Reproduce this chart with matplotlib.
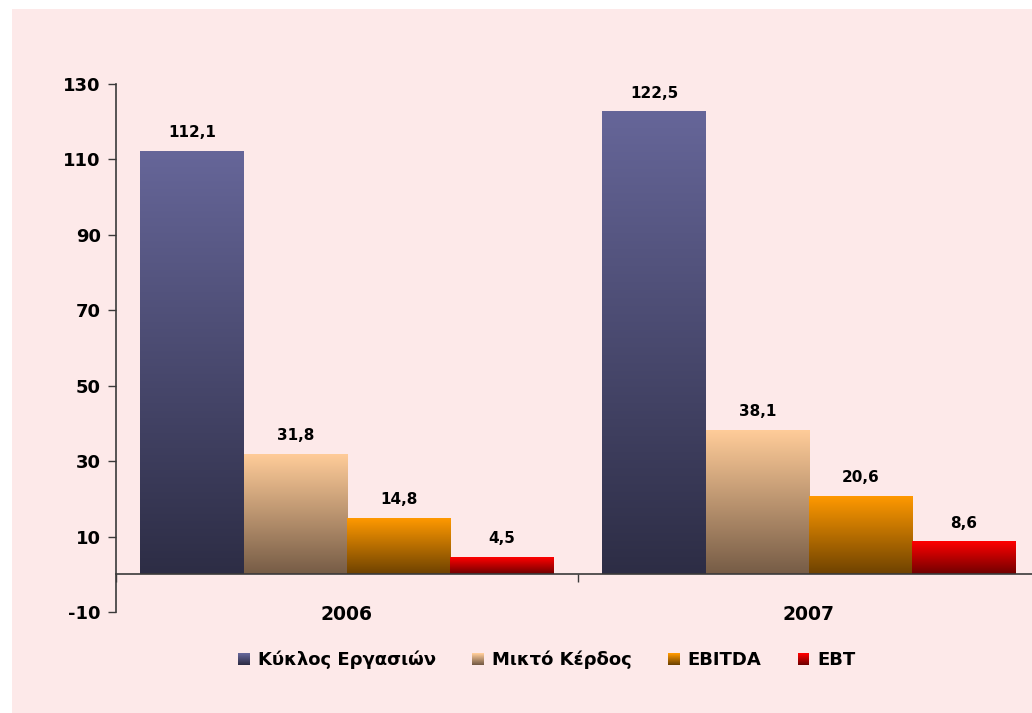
import numpy as np
import matplotlib
matplotlib.use('Agg')
import matplotlib.pyplot as plt
from matplotlib.colors import LinearSegmentedColormap, to_rgb
from matplotlib.patches import Rectangle, Patch
from matplotlib.legend_handler import HandlerBase

# ---- data ----
years = ['2006', '2007']
series = ['Κύκλος Εργασιών', 'Μικτό Κέρδος', 'EBITDA', 'EBT']
turnover = [112.1, 122.5]
gross_profit = [31.8, 38.1]
ebitda = [14.8, 20.6]
ebt = [4.5, 8.6]
values = [turnover, gross_profit, ebitda, ebt]
yticks = [-10, 10, 30, 50, 70, 90, 110, 130]

top_colors = ['#666699', '#FFCC99', '#FF9900', '#FF0000']
bottom_colors = ['#2D2D45', '#765C46', '#6E4200', '#700000']

FONT = 'DejaVu Sans'
plt.rcParams['font.family'] = [FONT]

W, H = 1032, 713
fig = plt.figure(figsize=(W / 100, H / 100), dpi=100)
fig.patch.set_facecolor('white')
fig.add_artist(Rectangle((12 / W, 0), 1, (H - 9) / H, transform=fig.transFigure,
                         facecolor='#FDE9E9', edgecolor='none', zorder=-10))

ax = fig.add_axes([116 / W, (H - 612) / H, (1040 - 116) / W, 528 / H])
ax.patch.set_alpha(0)

x = np.arange(len(years))
n = len(series)
w = 0.2235
grad = np.linspace(0, 1, 256).reshape(-1, 1)

for i, (vals, tc, bc) in enumerate(zip(values, top_colors, bottom_colors)):
    cmap = LinearSegmentedColormap.from_list(f'g{i}', [bc, tc])
    pos = x + (i - (n - 1) / 2) * w
    bars = ax.bar(pos, vals, width=w, facecolor='none', edgecolor='none', zorder=2)
    for b, v in zip(bars, vals):
        x0 = b.get_x()
        ax.imshow(grad, extent=(x0, x0 + w, 0, v), origin='lower', cmap=cmap,
                  aspect='auto', zorder=2, interpolation='bilinear')
        ax.annotate(f'{v:.1f}'.replace('.', ','), (x0 + w / 2, v),
                    xytext=(0, 8), textcoords='offset points', ha='center', va='bottom',
                    fontsize=11, fontweight='bold', color='black')

ax.set_xlim(-0.5, len(years) - 0.5)
ax.set_ylim(-10, 130)
ax.set_yticks(yticks)
ax.set_yticklabels([str(t) for t in yticks])

for s in ['top', 'right']:
    ax.spines[s].set_visible(False)
ax.spines['bottom'].set_position(('data', 0))
ax.spines['bottom'].set_zorder(5)
ax.spines['bottom'].set_color('#3a3a3a')
ax.spines['left'].set_color('#3a3a3a')
ax.spines['bottom'].set_linewidth(1.2)
ax.spines['left'].set_linewidth(1.2)

ax.set_xticks([-0.5, 0.5, 1.5])
ax.set_xticklabels([])
ax.set_xticks(x, minor=True)
ax.set_xticklabels(years, minor=True)
ax.tick_params(axis='x', which='major', direction='out', length=6, color='#3a3a3a', width=1)
ax.tick_params(axis='x', which='minor', length=0, pad=22, labelsize=13.5)
ax.tick_params(axis='y', direction='out', length=6, color='#3a3a3a', width=1, labelsize=13, pad=5)
for lab in ax.get_xticklabels(minor=True) + ax.get_yticklabels():
    lab.set_fontweight('bold')


class GradHandler(HandlerBase):
    def __init__(self, top, bottom):
        super().__init__()
        self.top = np.array(to_rgb(top))
        self.bottom = np.array(to_rgb(bottom))

    def create_artists(self, legend, orig_handle, xdescent, ydescent, width, height,
                       fontsize, trans):
        side = min(width, height)
        x0 = -xdescent + (width - side) / 2
        y0 = -ydescent + (height - side) / 2
        k = 12
        arts = []
        for j in range(k):
            f = j / (k - 1)
            c = self.bottom * (1 - f) + self.top * f
            arts.append(Rectangle((x0, y0 + side * j / k), side, side / k + 0.3,
                                  facecolor=c, edgecolor='none', transform=trans))
        return arts


handles = [Patch(label=s) for s in series]
hmap = {h: GradHandler(t, b) for h, t, b in zip(handles, top_colors, bottom_colors)}
leg = fig.legend(handles=handles, labels=series, handler_map=hmap, loc='center',
                 bbox_to_anchor=(547 / W, (H - 660) / H), ncol=4, frameon=False,
                 prop={'size': 13, 'weight': 'bold'}, handlelength=0.65, handleheight=0.65,
                 handletextpad=0.45, columnspacing=2.0)

fig.savefig('out.png', dpi=100)
